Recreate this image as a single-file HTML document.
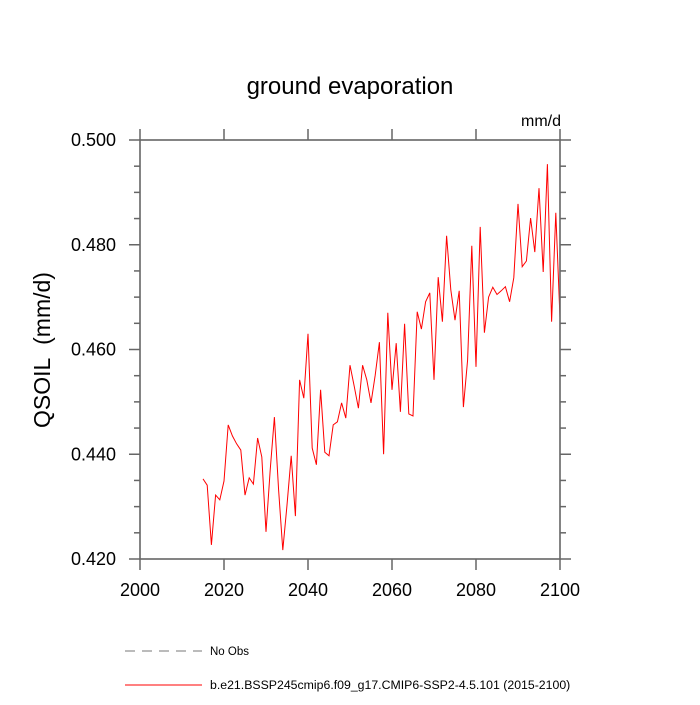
<!DOCTYPE html>
<html><head><meta charset="utf-8"><style>
body{margin:0;background:#fff;}
svg{font-family:"Liberation Sans",sans-serif;}
</style></head><body>
<svg width="700" height="700" viewBox="0 0 700 700">
<text x="350" y="94" font-size="24" text-anchor="middle">ground evaporation</text>
<text x="561" y="126" font-size="16" text-anchor="end">mm/d</text>
<text transform="translate(50,350) rotate(-90)" font-size="23" text-anchor="middle">QSOIL&#160;&#160;(mm/d)</text>
<g id="axes"></g>
<polyline id="series" fill="none" stroke="#ff0000" stroke-width="1"/>
<rect x="140" y="140" width="420" height="419" fill="none" stroke="#666" stroke-width="1.6"/>
<g>
<line x1="125" y1="651" x2="202" y2="651" stroke="#777" stroke-dasharray="10,7"/>
<text x="210" y="655" font-size="11.5">No Obs</text>
<line x1="125" y1="685" x2="202" y2="685" stroke="#ff0000"/>
<text x="210" y="689" font-size="12.3">b.e21.BSSP245cmip6.f09_g17.CMIP6-SSP2-4.5.101 (2015-2100)</text>
</g>
</svg>
<script>
const startYear = 2015;
const values = [0.4353,0.4341,0.4227,0.4322,0.4313,0.4349,0.4456,0.4435,0.4420,0.4408,0.4322,0.4355,0.4343,0.4431,0.4395,0.4252,0.4370,0.4471,0.4332,0.4217,0.4303,0.4397,0.4282,0.4542,0.4507,0.4630,0.4412,0.4380,0.4523,0.4404,0.4397,0.4456,0.4462,0.4498,0.4469,0.4570,0.4530,0.4488,0.4570,0.4542,0.4498,0.4551,
0.4614,0.4400,0.4670,0.4523,0.4612,0.4481,0.4649,0.4477,0.4473,0.4672,0.4639,0.4691,0.4708,0.4542,0.4738,0.4653,0.4817,0.4714,0.4656,0.4712,0.4490,0.4580,0.4798,0.4567,0.4834,0.4632,0.4700,0.4719,
0.4705,0.4712,0.4720,0.4691,0.4737,
0.4878,0.4758,0.4769,0.4851,0.4786,0.4908,0.4748,0.4954,0.4653,0.4861,0.4660];
const xTicks = [2000,2020,2040,2060,2080,2100];
const yTicks = [0.42,0.44,0.46,0.48,0.50];
const yTickLabels = ["0.420","0.440","0.460","0.480","0.500"];
const X0=140,X1=560,Y0=559,Y1=140;
const xs = yr => X0 + (yr-2000)/100*(X1-X0);
const ys = v => Y0 - (v-0.42)/0.08*(Y0-Y1);
const NS="http://www.w3.org/2000/svg";
const g=document.getElementById('axes');
function ln(x1,y1,x2,y2,name){const l=document.createElementNS(NS,'line');
l.setAttribute('x1',x1);l.setAttribute('y1',y1);l.setAttribute('x2',x2);l.setAttribute('y2',y2);
l.setAttribute('stroke','#666');l.setAttribute('stroke-width','1.5');


g.appendChild(l);}
function tx(x,y,s,anchor,name){const t=document.createElementNS(NS,'text');
t.setAttribute('x',x);t.setAttribute('y',y);t.setAttribute('font-size','18');t.setAttribute('text-anchor',anchor);t.textContent=s;


g.appendChild(t);}
xTicks.forEach(yr=>{const x=xs(yr);ln(x,Y0,x,Y0+11,'x-tick');ln(x,Y1,x,Y1-11,'x-tick-top');});
xTicks.forEach(yr=>tx(xs(yr),Y0+37,String(yr),'middle','x-tick-label'));
for(let i=0;i<=16;i++){const v=0.42+i*0.005;const y=ys(v);const L=(i%4===0)?11:6;
ln(X0,y,X0-L,y,'y-tick');ln(X1,y,X1+L,y,'y-tick-right');}
yTicks.forEach((v,i)=>tx(X0-24,ys(v)+6,yTickLabels[i],'end','y-tick-label'));
document.getElementById('series').setAttribute('points',values.map((v,i)=>xs(startYear+i).toFixed(1)+','+ys(v).toFixed(1)).join(' '));
</script>
</body></html>
